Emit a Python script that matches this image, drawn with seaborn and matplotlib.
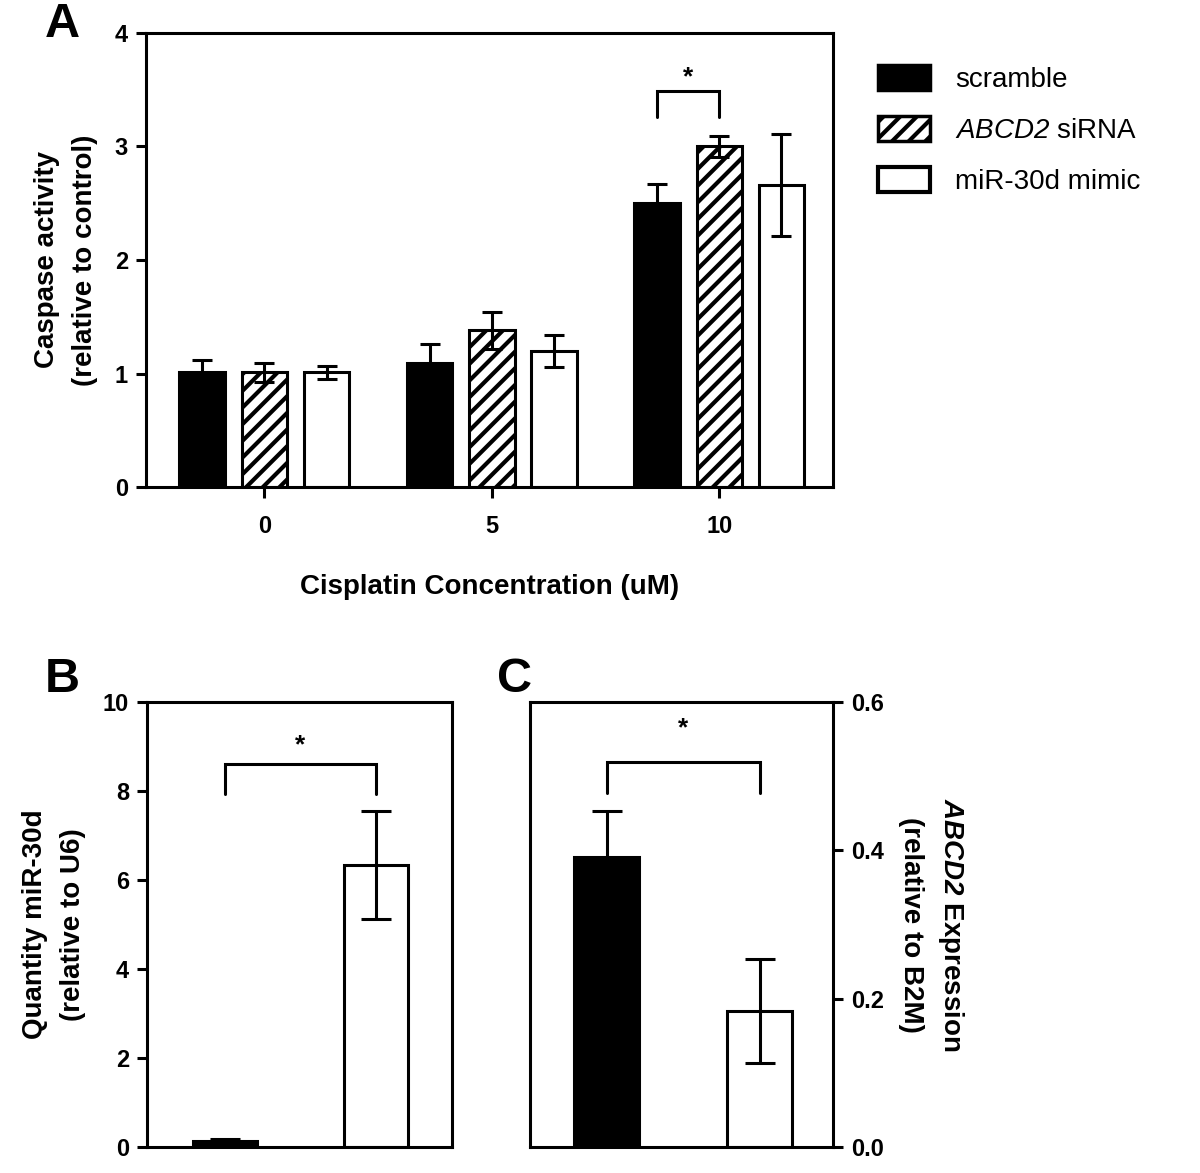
import numpy as np
import pandas as pd
import matplotlib
matplotlib.use("Agg")
import matplotlib.pyplot as plt
import seaborn as sns
from matplotlib.patches import Patch

# panel A: caspase activity
conc = ["0", "5", "10"]
groups = ["scramble", "ABCD2 siRNA", "miR-30d mimic"]
caspase_mean = {
    "scramble": [1.01, 1.09, 2.50],
    "ABCD2 siRNA": [1.01, 1.38, 3.00],
    "miR-30d mimic": [1.01, 1.20, 2.66],
}
caspase_err = {
    "scramble": [0.11, 0.17, 0.17],
    "ABCD2 siRNA": [0.085, 0.16, 0.09],
    "miR-30d mimic": [0.06, 0.14, 0.45],
}

# panel B: miR-30d quantity
b_groups = ["scramble", "miR-30d mimic"]
b_mean = [0.13, 6.34]
b_err = [0.04, 1.21]

# panel C: ABCD2 expression
c_groups = ["scramble", "miR-30d mimic"]
c_mean = [0.391, 0.183]
c_err = [0.062, 0.07]

sns.set_theme(style="ticks")
plt.rcParams["font.family"] = ["Liberation Sans", "DejaVu Sans"]
plt.rcParams["mathtext.fontset"] = "custom"
# math is only used for the italic gene name
plt.rcParams["mathtext.rm"] = "Liberation Sans:italic"
plt.rcParams["mathtext.it"] = "Liberation Sans:italic"
plt.rcParams["mathtext.bf"] = "Liberation Sans:italic:bold"
plt.rcParams["hatch.linewidth"] = 3.0
plt.rcParams["axes.linewidth"] = 2.2
for k in ["text.color", "axes.labelcolor", "xtick.color", "ytick.color",
          "axes.edgecolor"]:
    plt.rcParams[k] = "black"

LW = 2.2
TICK_FS = 17
fig = plt.figure(figsize=(12, 11.73), dpi=100)

axA = fig.add_axes([0.1217, 0.5848, 0.5725, 0.3871])
axB = fig.add_axes([0.1225, 0.0222, 0.2542, 0.3793])
axC = fig.add_axes([0.4417, 0.0222, 0.2525, 0.3793])

# ---- A
dfA = pd.DataFrame(
    [(c, g, caspase_mean[g][i]) for g in groups for i, c in enumerate(conc)],
    columns=["conc", "group", "value"],
)
sns.barplot(data=dfA, x="conc", y="value", hue="group", order=conc,
            hue_order=groups, palette=["black", "white", "white"],
            saturation=1, edgecolor="black", linewidth=LW, width=0.82,
            gap=0.27, errorbar=None, legend=False, ax=axA)
hatches = ["", "//", ""]
centers = {}
for cont, g, h in zip(axA.containers, groups, hatches):
    bars = sorted(cont, key=lambda b: b.get_x())
    xs = [b.get_x() + b.get_width() / 2 for b in bars]
    centers[g] = xs
    for b in bars:
        b.set_hatch(h)
    axA.errorbar(xs, caspase_mean[g], yerr=caspase_err[g], fmt="none",
                 ecolor="black", elinewidth=LW, capsize=7.2, capthick=LW,
                 zorder=3)

x1, x2 = centers["scramble"][2], centers["ABCD2 siRNA"][2]
axA.plot([x1, x1, x2, x2], [3.26, 3.49, 3.49, 3.26], color="black", lw=LW,
         solid_joinstyle="miter")
axA.text((x1 + x2) / 2, 3.61, "*", ha="center", va="center", fontsize=19,
         fontweight="bold")

axA.set_xlim(-0.52, 2.5)
axA.set_ylim(0, 4)
axA.set_yticks([0, 1, 2, 3, 4])
axA.set_ylabel("Caspase activity\n(relative to control)", fontsize=20,
               fontweight="bold", labelpad=12, linespacing=1.6)
axA.set_xlabel("Cisplatin Concentration (uM)", fontsize=20,
               fontweight="bold", labelpad=26)
axA.tick_params(axis="y", length=7, width=LW, pad=6, labelsize=TICK_FS)
axA.tick_params(axis="x", length=8, width=LW, pad=12, labelsize=TICK_FS)

handles = [
    Patch(facecolor="black", edgecolor="black", linewidth=2.5),
    Patch(facecolor="white", edgecolor="black", linewidth=2.5, hatch="//"),
    Patch(facecolor="white", edgecolor="black", linewidth=3),
]
labels = ["scramble", r"$\mathrm{ABCD2}$ siRNA", "miR-30d mimic"]
fig.legend(handles, labels, loc="upper left",
           bbox_to_anchor=(0.7317, 0.9446), bbox_transform=fig.transFigure,
           frameon=False, fontsize=20, handlelength=1.87, handleheight=1.0,
           handletextpad=0.9, labelspacing=0.83, borderpad=0,
           borderaxespad=0)

# ---- B
sns.barplot(x=b_groups, y=b_mean, hue=b_groups, palette=["black", "white"],
            saturation=1, edgecolor="black", linewidth=LW, width=0.42,
            legend=False, ax=axB)
bx = []
for cont in axB.containers:
    for b in cont:
        bx.append(b.get_x() + b.get_width() / 2)
bx = sorted(bx)
axB.errorbar(bx, b_mean, yerr=b_err, fmt="none", ecolor="black",
             elinewidth=LW, capsize=10.5, capthick=LW, zorder=3)
axB.plot([bx[0], bx[0], bx[1], bx[1]], [7.93, 8.6, 8.6, 7.93], color="black",
         lw=LW, solid_joinstyle="miter")
axB.text(sum(bx) / 2, 9.03, "*", ha="center", va="center", fontsize=19,
         fontweight="bold")
axB.set_xlim(-0.517, 1.503)
axB.set_ylim(0, 10)
axB.set_yticks([0, 2, 4, 6, 8, 10])
axB.set_xticks([])
axB.set_ylabel("Quantity miR-30d\n(relative to U6)", fontsize=20,
               fontweight="bold", labelpad=12, linespacing=1.6)
axB.tick_params(axis="y", length=7, width=LW, pad=6, labelsize=TICK_FS)

# ---- C
sns.barplot(x=c_groups, y=c_mean, hue=c_groups, palette=["black", "white"],
            saturation=1, edgecolor="black", linewidth=LW, width=0.42,
            legend=False, ax=axC)
cx = []
for cont in axC.containers:
    for b in cont:
        cx.append(b.get_x() + b.get_width() / 2)
cx = sorted(cx)
axC.errorbar(cx, c_mean, yerr=c_err, fmt="none", ecolor="black",
             elinewidth=LW, capsize=10.5, capthick=LW, zorder=3)
axC.plot([cx[0], cx[0], cx[1], cx[1]], [0.478, 0.519, 0.519, 0.478],
         color="black", lw=LW, solid_joinstyle="miter")
axC.text(sum(cx) / 2, 0.564, "*", ha="center", va="center", fontsize=19,
         fontweight="bold")
axC.set_xlim(-0.5, 1.48)
axC.set_ylim(0, 0.6)
axC.set_yticks([0.0, 0.2, 0.4, 0.6])
axC.set_yticklabels(["0.0", "0.2", "0.4", "0.6"])
axC.set_xticks([])
axC.yaxis.tick_right()
axC.yaxis.set_label_position("right")
axC.set_ylabel(r"$\mathbf{ABCD2}$ Expression" + "\n(relative to B2M)",
               fontsize=20, fontweight="bold", labelpad=10, linespacing=1.6,
               rotation=270, va="bottom")
axC.tick_params(axis="y", length=7, width=LW, pad=6, labelsize=TICK_FS)

for ax in (axA, axB, axC):
    for s in ax.spines.values():
        s.set_visible(True)
        s.set_linewidth(LW)
        s.set_color("black")
    for lab in ax.get_yticklabels() + ax.get_xticklabels():
        lab.set_fontweight("bold")
    ax.set_facecolor("white")

fig.text(45 / 1200, 1 - 2 / 1173, "A", fontsize=35, fontweight="bold",
         ha="left", va="top")
fig.text(45 / 1200, 1 - 657 / 1173, "B", fontsize=35, fontweight="bold",
         ha="left", va="top")
fig.text(497 / 1200, 1 - 657 / 1173, "C", fontsize=35, fontweight="bold",
         ha="left", va="top")

fig.savefig("out.png", dpi=100, facecolor="white")
